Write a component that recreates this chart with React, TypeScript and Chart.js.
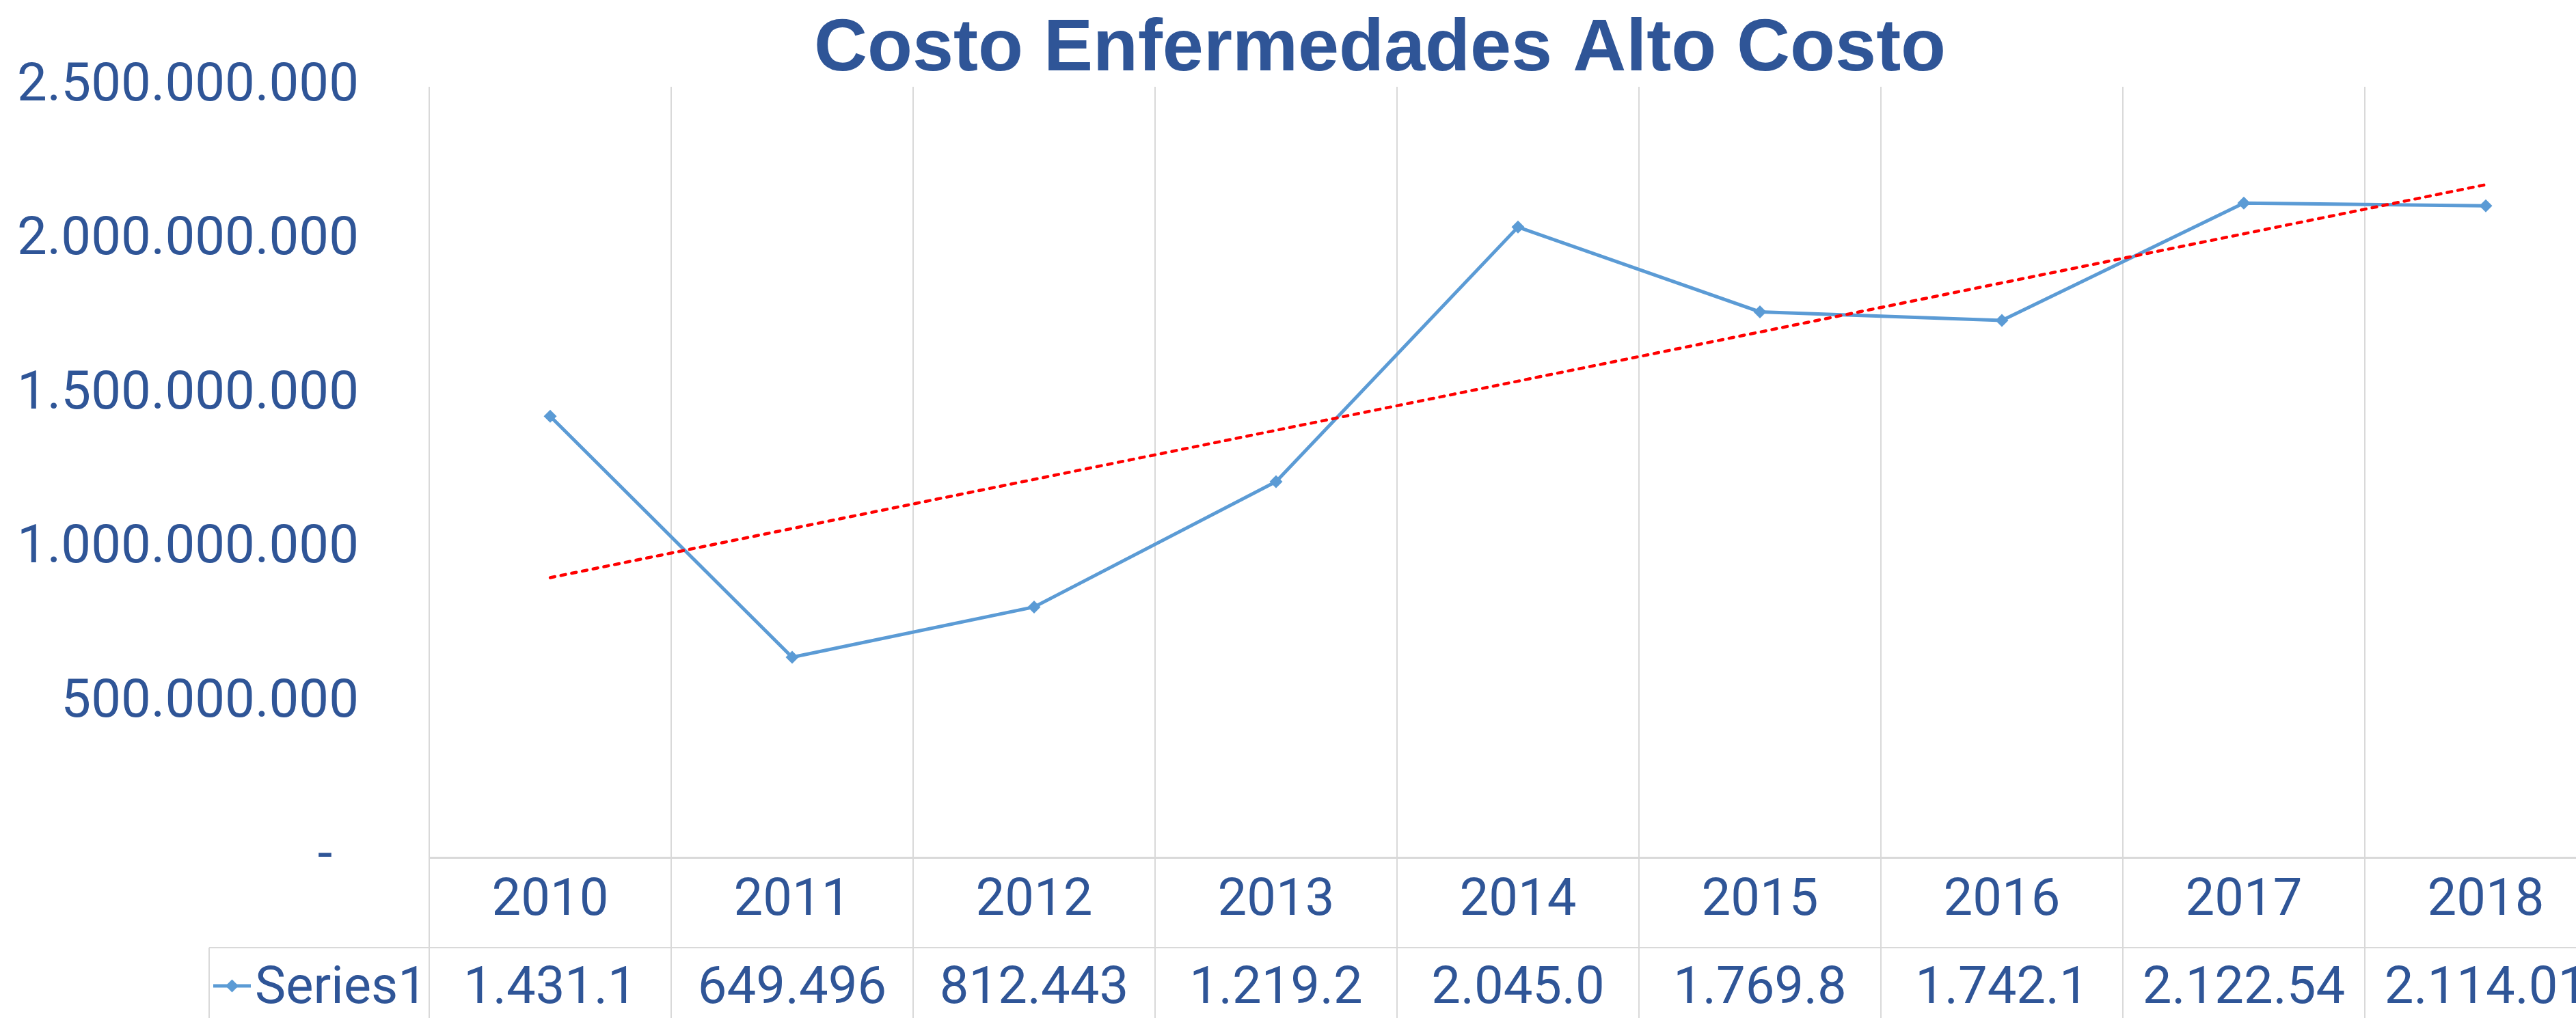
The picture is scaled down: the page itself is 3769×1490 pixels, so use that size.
import React, { useEffect, useRef } from 'react';
import { Chart, registerables } from 'chart.js';

Chart.register(...registerables);

const chartTitle = 'Costo Enfermedades Alto Costo';
const seriesName = 'Series1';
const categories = ['2010', '2011', '2012', '2013', '2014', '2015', '2016', '2017', '2018'];
const seriesValues = [
  1431100000, 649496000, 812443000, 1219200000, 2045000000,
  1769800000, 1742100000, 2122540000, 2114010000,
];
// Values as shown (truncated) in the chart's data table
const tableLabels = ['1.431.1', '649.496', '812.443', '1.219.2', '2.045.0', '1.769.8', '1.742.1', '2.122.54', '2.114.01'];
const yMin = 0;
const yMax = 2500000000;
const yStep = 500000000;

const BLUE_TEXT = '#2F5597';
const LINE_BLUE = '#5B9BD5';
const GRID = '#D9D9D9';
const FONT = 'Roboto';

// Linear (least squares) trendline of the series, as Excel computes it
function linearTrend(values: number[]): number[] {
  const n = values.length;
  const mx = (n - 1) / 2;
  const my = values.reduce((a, b) => a + b, 0) / n;
  let sxy = 0;
  let sxx = 0;
  values.forEach((v, i) => {
    sxy += (i - mx) * (v - my);
    sxx += (i - mx) * (i - mx);
  });
  const slope = sxy / sxx;
  return values.map((_, i) => my + slope * (i - mx));
}

function fmtThousands(v: number): string {
  return String(Math.round(v)).replace(/\B(?=(\d{3})+(?!\d))/g, '.');
}

const tablePlugin = {
  id: 'excelTable',
  afterDraw(chart: any) {
    const ctx = chart.ctx as CanvasRenderingContext2D;
    const xs = chart.scales.x;
    const area = chart.chartArea;
    const H = chart.height;
    const W = chart.width;
    const n = categories.length;
    const colW = xs.getPixelForValue(1) - xs.getPixelForValue(0);
    const rowTop = xs.bottom;
    ctx.save();

    // title
    ctx.fillStyle = BLUE_TEXT;
    ctx.font = `bold 108px "Liberation Sans", Arial, sans-serif`;
    ctx.textAlign = 'center';
    ctx.textBaseline = 'alphabetic';
    ctx.fillText(chartTitle, W / 2, 103);

    // table grid lines
    ctx.strokeStyle = GRID;
    ctx.lineWidth = 2;
    ctx.beginPath();
    for (let i = 0; i <= n; i++) {
      const x = Math.round(xs.getPixelForValue(0) - colW / 2 + i * colW);
      ctx.moveTo(x, area.bottom);
      ctx.lineTo(x, H);
    }
    const legendLeft = 306;
    ctx.moveTo(legendLeft, rowTop);
    ctx.lineTo(W, rowTop);
    ctx.moveTo(legendLeft, rowTop);
    ctx.lineTo(legendLeft, H);
    ctx.stroke();

    // legend key
    const keyY = 1443;
    ctx.strokeStyle = LINE_BLUE;
    ctx.lineWidth = 5;
    ctx.beginPath();
    ctx.moveTo(312, keyY);
    ctx.lineTo(367, keyY);
    ctx.stroke();
    ctx.fillStyle = LINE_BLUE;
    ctx.beginPath();
    const kx = 339.5;
    const r = 9.5;
    ctx.moveTo(kx, keyY - r);
    ctx.lineTo(kx + r, keyY);
    ctx.lineTo(kx, keyY + r);
    ctx.lineTo(kx - r, keyY);
    ctx.closePath();
    ctx.fill();

    // legend text and values
    ctx.fillStyle = BLUE_TEXT;
    ctx.font = `76px ${FONT}`;
    ctx.textAlign = 'left';
    ctx.textBaseline = 'alphabetic';
    ctx.fillText(seriesName, 373, 1468);
    ctx.textAlign = 'center';
    tableLabels.forEach((t, i) => {
      ctx.fillText(t, xs.getPixelForValue(i), 1468);
    });
    ctx.restore();
  },
};

export default function App() {
  const ref = useRef<HTMLCanvasElement | null>(null);
  useEffect(() => {
    if (!ref.current) return;
    const trend = linearTrend(seriesValues);
    const chart = new Chart(ref.current, {
      type: 'line',
      data: {
        labels: categories,
        datasets: [
          {
            label: 'Linear (' + seriesName + ')',
            data: trend,
            borderColor: '#FF0000',
            borderWidth: 4.5,
            borderDash: [7, 9],
            borderCapStyle: 'round',
            pointRadius: 0,
            tension: 0,
            fill: false,
            order: 0,
          },
          {
            label: seriesName,
            data: seriesValues,
            borderColor: LINE_BLUE,
            backgroundColor: LINE_BLUE,
            borderWidth: 5,
            pointStyle: 'rectRot',
            pointRadius: 9.5,
            pointBackgroundColor: LINE_BLUE,
            pointBorderColor: LINE_BLUE,
            pointBorderWidth: 0,
            tension: 0,
            fill: false,
            order: 1,
          },
        ],
      },
      options: {
        responsive: false,
        animation: false,
        devicePixelRatio: 1,
        layout: { padding: { left: 0, top: 127, right: 224, bottom: 103 } },
        plugins: {
          legend: { display: false },
          title: { display: false },
          tooltip: { enabled: false },
        },
        scales: {
          x: {
            type: 'category',
            offset: true,
            grid: { display: true, color: GRID, lineWidth: 2, drawTicks: false, offset: true },
            border: { display: true, color: GRID, width: 3 },
            ticks: {
              color: BLUE_TEXT,
              font: { family: FONT, size: 76 },
              padding: 19,
              maxRotation: 0,
              autoSkip: false,
            },
            afterFit: (s: any) => {
              s.height = 132;
            },
          },
          y: {
            min: yMin,
            max: yMax,
            grid: { display: false, drawTicks: true, tickLength: 103 },
            border: { display: false },
            ticks: {
              stepSize: yStep,
              padding: 0,
              color: BLUE_TEXT,
              font: { family: FONT, size: 78 },
              callback: (v: any) => (Number(v) === 0 ? '-  ' : fmtThousands(Number(v))),
            },
            afterFit: (s: any) => {
              s.width = 628;
            },
          },
        },
      },
      plugins: [tablePlugin],
    } as any);
    return () => chart.destroy();
  }, []);
  return (
    <div
      style={{
        position: 'absolute',
        left: 0,
        top: 0,
        width: 3769,
        height: 1490,
        overflow: 'hidden',
        background: '#ffffff',
      }}
    >
      <canvas ref={ref} width={4038} height={1490} style={{ display: 'block' }} />
    </div>
  );
}
